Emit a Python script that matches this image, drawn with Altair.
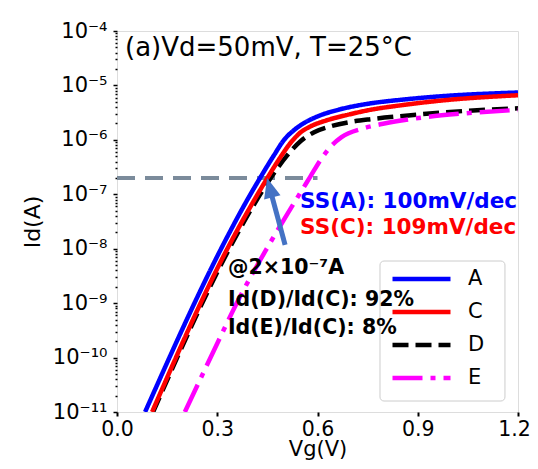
import altair as alt
import pandas as pd

FONT = "DejaVu Sans"

# ---- curves: Vg (V) and log10(Id/A) ----
series_names = ["A", "C", "D", "E"]
series_colors = ["#0000ff", "#ff0000", "#000000", "#ff00ff"]
series_dash = [[1, 0], [1, 0], [16, 7], [30, 8, 5, 8]]
draw_order = ["A", "D", "C", "E"]

vg_A = [0.084, 0.325, 0.38, 0.434, 0.47, 0.50, 0.53, 0.56, 0.60, 0.667, 0.748, 0.856, 0.967, 1.2]
lg_A = [-11.0, -7.84, -7.21, -6.64, -6.28, -6.00, -5.82, -5.69, -5.57, -5.44, -5.34, -5.26, -5.20, -5.13]

vg_C = [0.105, 0.344, 0.40, 0.452, 0.49, 0.52, 0.55, 0.58, 0.628, 0.697, 0.748, 0.856, 0.967, 1.2]
lg_C = [-11.0, -7.84, -7.22, -6.68, -6.31, -6.05, -5.86, -5.75, -5.64, -5.53, -5.46, -5.36, -5.28, -5.18]

vg_D = [0.108, 0.35, 0.405, 0.46, 0.51, 0.55, 0.59, 0.64, 0.70, 0.76, 0.856, 0.967, 1.2]
lg_D = [-11.0, -7.84, -7.24, -6.70, -6.28, -6.02, -5.86, -5.75, -5.67, -5.62, -5.56, -5.50, -5.42]

vg_E = [0.203, 0.29, 0.37, 0.45, 0.51, 0.55, 0.578, 0.61, 0.64, 0.672, 0.736, 0.80, 0.877, 1.026, 1.2]
lg_E = [-11.0, -9.87, -8.86, -7.98, -7.36, -6.96, -6.68, -6.36, -6.12, -5.95, -5.79, -5.70, -5.62, -5.52, -5.45]

curve_vg = {"A": vg_A, "C": vg_C, "D": vg_D, "E": vg_E}
curve_lg = {"A": lg_A, "C": lg_C, "D": lg_D, "E": lg_E}

# ---- axes ----
x_domain = [0.0, 1.2]
x_ticks = [0.0, 0.3, 0.6, 0.9, 1.2]
y_exps = [-11, -10, -9, -8, -7, -6, -5, -4]
y_labels = ["10⁻¹¹", "10⁻¹⁰", "10⁻⁹", "10⁻⁸", "10⁻⁷", "10⁻⁶", "10⁻⁵", "10⁻⁴"]
minor_mult = [2, 3, 4, 5, 6, 7, 8, 9]

# ---- annotations ----
ref_current_exp = [-6.699]        # 2e-7 A
ref_line_vg = [0.0, 0.6]
arrow_tail = [0.503, -7.93]
arrow_end = [0.463, -7.02]
arrow_head = [0.457, -6.88]

title_text = ["(a)Vd=50mV, T=25°C"]
title_pos = [0.024, -4.31]

ann_text = ["SS(A): 100mV/dec", "SS(C): 109mV/dec", "@2×10⁻⁷A",
            "Id(D)/Id(C): 92%", "Id(E)/Id(C): 8%"]
ann_vg = [0.548, 0.548, 0.332, 0.332, 0.332]
ann_lg = [-7.14, -7.62, -8.35, -8.94, -9.46]
ann_color = ["#0000ff", "#ff0000", "#000000", "#000000", "#000000"]
ann_size = [21.5, 21.5, 20.5, 20.5, 20.5]

# legend frame (data coordinates)
legend_box_vg = [0.787, 1.161]
legend_box_lg = [-8.226, -10.798]

# ---- build tables ----
rows = []
for s in draw_order:
    for v, l in zip(curve_vg[s], curve_lg[s]):
        rows.append({"series": s, "vg": v, "id": 10.0 ** l})
curves_df = pd.DataFrame(rows)

y_all = []
for e in y_exps:
    y_all.append(10.0 ** e)
    if e < y_exps[-1]:
        for m in minor_mult:
            y_all.append(m * 10.0 ** e)

lab_arr = "[" + ",".join("'" + t + "'" for t in y_labels) + "]"
is_major = "abs(log(datum.value)/LN10 - round(log(datum.value)/LN10)) < 0.001"
label_expr = f"{is_major} ? {lab_arr}[round(log(datum.value)/LN10) - ({y_exps[0]})] : ''"

xs = alt.Scale(domain=x_domain, nice=False, zero=False)
ys = alt.Scale(type="log", domain=[10.0 ** y_exps[0], 10.0 ** y_exps[-1]], nice=False)

x_axis = alt.Axis(values=x_ticks, format=".1f", title="Vg(V)", labelFont=FONT, titleFont=FONT,
                  labelFontSize=20.5, titleFontSize=21, titleFontWeight="normal",
                  labelColor="black", titleColor="black", tickColor="black",
                  tickSize=4, tickWidth=2, domain=False, grid=False,
                  labelOffset={"condition": {"test": "datum.value > 1.19", "value": -4}, "value": 0},
                  labelPadding=3, titleBaseline="bottom", titleY=47,
                  labelFlush=False, labelBound=False)
y_axis = alt.Axis(values=y_all, labelExpr=label_expr, title="Id(A)", labelFont=FONT, titleFont=FONT,
                  labelFontSize=21, titleFontSize=22, titleFontWeight="normal",
                  labelColor="black", titleColor="black", tickColor="black",
                  tickSize={"condition": {"test": is_major, "value": 4}, "value": 2},
                  tickWidth=1.5, domain=False, grid=False, labelOverlap=False,
                  labelPadding=6, titlePadding=8, labelFlush=False, labelBound=False)

X = alt.X("vg:Q", scale=xs, axis=x_axis)
Y = alt.Y("id:Q", scale=ys, axis=y_axis)

legend = alt.Legend(title=None, orient="none", legendX=273, legendY=233,
                    symbolType="stroke", symbolSize=58 * 58, symbolStrokeWidth=4.5,
                    clipHeight=30, rowPadding=3, padding=0, symbolOffset=0, labelOffset=15,
                    labelFont=FONT, labelFontSize=21, labelColor="black")

curves = alt.Chart(curves_df).mark_line(clip=True, strokeWidth=4.5, interpolate="monotone").encode(
    x=X, y=Y,
    color=alt.Color("series:N", scale=alt.Scale(domain=series_names, range=series_colors), legend=legend),
    strokeDash=alt.StrokeDash("series:N", scale=alt.Scale(domain=series_names, range=series_dash), legend=legend),
    detail="series:N",
)

ref_df = pd.DataFrame({"vg": [ref_line_vg[0]], "vg2": [ref_line_vg[1]], "id": [10.0 ** ref_current_exp[0]]})
ref_line = alt.Chart(ref_df).mark_rule(color="#7b8b9b", strokeWidth=4, strokeDash=[18, 10]).encode(
    x=X, x2="vg2:Q", y=Y)

shaft_df = pd.DataFrame({"vg": [arrow_tail[0]], "vg2": [arrow_end[0]],
                         "id": [10.0 ** arrow_tail[1]], "id2": [10.0 ** arrow_end[1]]})
shaft = alt.Chart(shaft_df).mark_rule(color="#4472c4", strokeWidth=5).encode(
    x=X, x2="vg2:Q", y=Y, y2="id2:Q")
head_df = pd.DataFrame({"vg": [arrow_head[0]], "id": [10.0 ** arrow_head[1]]})
head = alt.Chart(head_df).mark_point(shape="M0,-1L0.85,1L-0.85,1Z", size=400, filled=True,
                                     color="#4472c4", opacity=1, angle=345, strokeWidth=0).encode(x=X, y=Y)

box_df = pd.DataFrame({"vg": [legend_box_vg[0]], "vg2": [legend_box_vg[1]],
                       "id": [10.0 ** legend_box_lg[0]], "id2": [10.0 ** legend_box_lg[1]]})
box = alt.Chart(box_df).mark_rect(fill="white", fillOpacity=0.8, stroke="#cccccc", strokeWidth=1,
                                  cornerRadius=4).encode(x=X, x2="vg2:Q", y=Y, y2="id2:Q")

title_df = pd.DataFrame({"vg": [title_pos[0]], "id": [10.0 ** title_pos[1]], "t": title_text})
title = alt.Chart(title_df).mark_text(font=FONT, fontSize=26, align="left", baseline="middle",
                                      color="black").encode(x=X, y=Y, text="t:N")

ann_df = pd.DataFrame({"vg": ann_vg, "id": [10.0 ** v for v in ann_lg], "t": ann_text,
                       "c": ann_color, "s": ann_size})
ann = alt.Chart(ann_df).mark_text(font=FONT, fontWeight="bold", align="left",
                                  baseline="middle").encode(
    x=X, y=Y, text="t:N", color=alt.Color("c:N", scale=None), size=alt.Size("s:Q", scale=None))

chart = alt.layer(ref_line, curves, shaft, head, box, title, ann).properties(
    width=401, height=381,
    autosize=alt.AutoSizeParams(type="none"),
    padding={"left": 109, "top": 23, "right": 12, "bottom": 49},
).configure_view(stroke="black", strokeWidth=3).configure(font=FONT)

chart.save("out.html", embed_options={"renderer": "svg", "actions": False})
